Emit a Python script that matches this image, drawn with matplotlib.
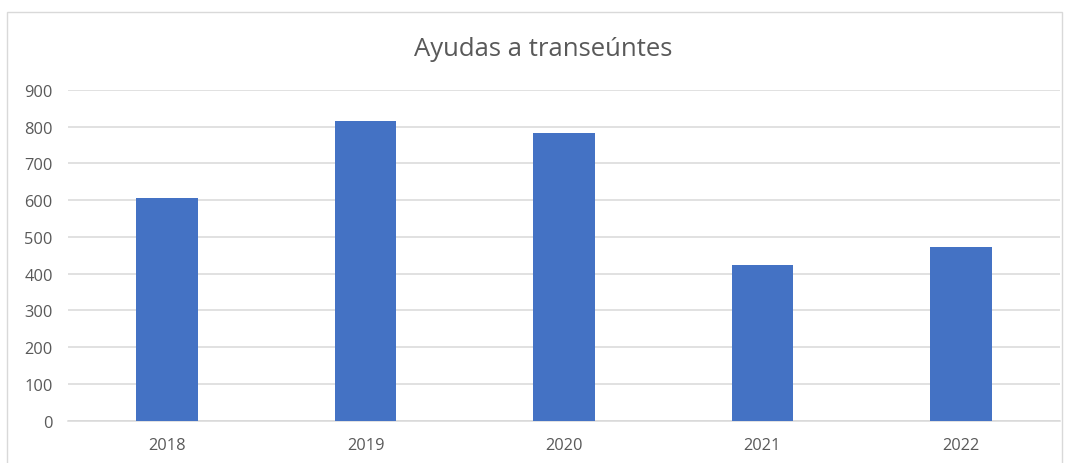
import matplotlib.pyplot as plt
from matplotlib.patches import Rectangle

# Data
years = ['2018', '2019', '2020', '2021', '2022']
ayudas = [605, 815, 784, 423, 472]
y_ticks = [0, 100, 200, 300, 400, 500, 600, 700, 800, 900]

plt.rcParams['font.family'] = ['Open Sans', 'DejaVu Sans']

fig = plt.figure(figsize=(10.69, 4.64), dpi=100)
ax = fig.add_axes([68 / 1069, 1 - 421.7 / 464, 992 / 1069, (421.7 - 91) / 464])

x = range(len(years))
ax.bar(x, ayudas, width=0.31, color='#4472C4', zorder=3)

ax.set_xlim(-0.5, len(years) - 0.5)
ax.set_ylim(0, 900)
ax.set_yticks(y_ticks)
ax.set_xticks(list(x))
ax.set_xticklabels(years)
ax.grid(axis='y', color='#d9d9d9', linewidth=1.1, zorder=0)
ax.tick_params(axis='both', length=0, colors='#595959', labelsize=11.8)
ax.tick_params(axis='x', pad=12)
ax.tick_params(axis='y', pad=11)
for side in ['top', 'right', 'left']:
    ax.spines[side].set_visible(False)
ax.spines['bottom'].set_color('#d9d9d9')
ax.spines['bottom'].set_linewidth(1.1)

fig.text(543 / 1069, 1 - 50 / 464, 'Ayudas a transeúntes', ha='center', va='center',
         fontsize=18.5, color='#595959')

# light frame around the chart area
fig.patches.append(Rectangle((7 / 1069, -0.05), 1055 / 1069, 1.05 - 13 / 464,
                             transform=fig.transFigure, fill=False,
                             edgecolor='#d9d9d9', linewidth=1.0))

fig.savefig('out.png', dpi=100)
